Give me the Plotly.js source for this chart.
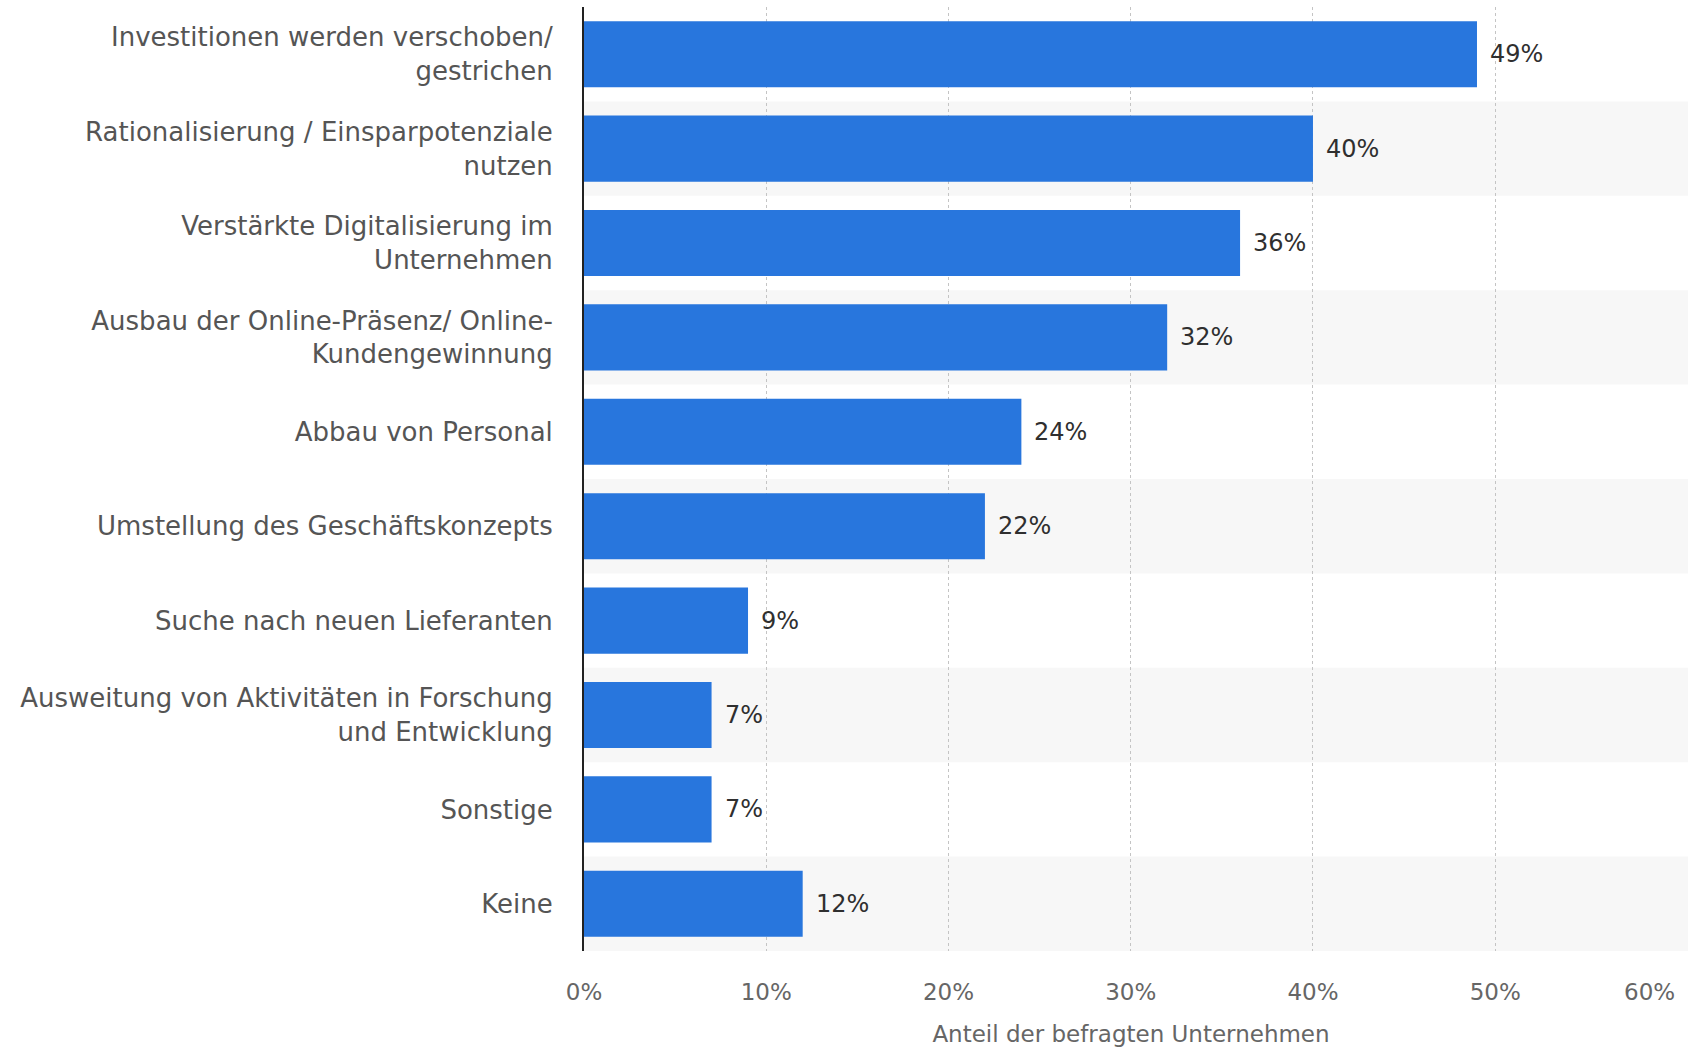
<!DOCTYPE html>
<html>
<head>
<meta charset="utf-8">
<script src="https://cdn.plot.ly/plotly-3.0.1.min.js"></script>
<style>html,body{margin:0;padding:0;background:#fff;}#chart{width:1688px;height:1049px;}</style>
</head>
<body>
<div id="chart"></div>
<script>
const categories = [
  "Investitionen werden verschoben/<br>gestrichen",
  "Rationalisierung / Einsparpotenziale<br>nutzen",
  "Verstärkte Digitalisierung im<br>Unternehmen",
  "Ausbau der Online-Präsenz/ Online-<br>Kundengewinnung",
  "Abbau von Personal",
  "Umstellung des Geschäftskonzepts",
  "Suche nach neuen Lieferanten",
  "Ausweitung von Aktivitäten in Forschung<br>und Entwicklung",
  "Sonstige",
  "Keine"
];
const values = [49, 40, 36, 32, 24, 22, 9, 7, 7, 12];
const tickValues = [0, 10, 20, 30, 40, 50, 60];
const tickLabels = ["0%", "10%", "20%", "30%", "40%", "50%", "60%"];
const xTitle = "Anteil der befragten Unternehmen";

const font = "DejaVu Sans, Verdana, sans-serif";
const lastTick = tickValues[tickValues.length - 1];

const trace = {
  type: "bar",
  orientation: "h",
  x: values,
  y: categories,
  marker: {color: "#2876dd"},
  hoverinfo: "none"
};

const shapes = [];
categories.forEach((c, i) => {
  if (i % 2 === 1) {
    shapes.push({type: "rect", layer: "below", xref: "paper", x0: 0, x1: 1.02,
      yref: "y", y0: i - 0.5, y1: i + 0.5, fillcolor: "#f7f7f7", line: {width: 0}});
  }
});

const annotations = values.map((v, i) => ({
  x: v, y: categories[i], xref: "x", yref: "y", text: v + "%",
  showarrow: false, xanchor: "left", xshift: 11, yshift: 0,
  font: {family: font, size: 24, color: "#2f2f2f"}
}));
// last tick label sits right-aligned at the plot edge
annotations.push({
  x: lastTick, xref: "x", y: 0, yref: "paper", yanchor: "top", xanchor: "right",
  yshift: -26, text: tickLabels[tickLabels.length - 1], showarrow: false,
  font: {family: font, size: 23, color: "#666"}
});

const layout = {
  width: 1688, height: 1049,
  margin: {l: 584, r: 10, t: 7, b: 98},
  paper_bgcolor: "#fff", plot_bgcolor: "rgba(0,0,0,0)",
  bargap: 0.3,
  showlegend: false,
  xaxis: {
    range: [0, 60.03], tickvals: tickValues,
    ticktext: tickLabels.map((t, i) => i === tickLabels.length - 1 ? "" : t),
    showgrid: true, gridcolor: "#c4c4c4", griddash: "dot", gridwidth: 1,
    zeroline: false, showline: false,
    ticks: "outside", ticklen: 20, tickcolor: "rgba(0,0,0,0)",
    tickfont: {family: font, size: 23, color: "#666"},
    title: {text: xTitle, font: {family: font, size: 23, color: "#666"}, standoff: 22},
    fixedrange: true
  },
  yaxis: {
    autorange: "reversed",
    showline: true, linecolor: "#222", linewidth: 2,
    showgrid: false, zeroline: false,
    ticks: "outside", ticklen: 24, tickcolor: "rgba(0,0,0,0)",
    tickfont: {family: font, size: 26, color: "#555"},
    fixedrange: true
  },
  shapes: shapes,
  annotations: annotations
};

Plotly.newPlot("chart", [trace], layout, {displayModeBar: false, staticPlot: true});
</script>
</body>
</html>
